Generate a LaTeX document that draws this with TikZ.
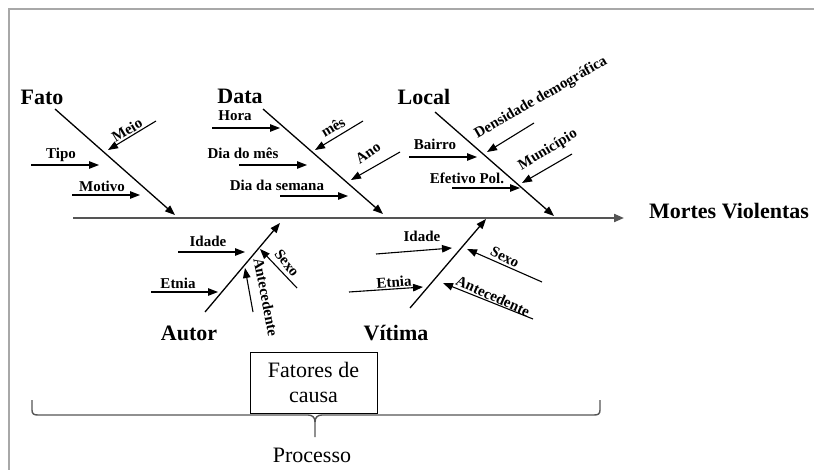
\documentclass[tikz,border=0pt]{standalone}
\usepackage{fontspec}
\setmainfont{Liberation Serif}
\usetikzlibrary{arrows.meta}
\definecolor{framegray}{HTML}{A8A8A8}
\definecolor{spinegray}{HTML}{555555}
\tikzset{
  tip/.style={-{Triangle[length=10pt,width=7.5pt]}},
  bone/.style={tip, line width=1.3pt, black},
  twig/.style={tip, line width=1.1pt, black},
  spine/.style={-{Triangle[length=10pt,width=8pt]}, line width=2pt, spinegray},
  head/.style={font=\fontsize{22}{24}\selectfont\bfseries, inner sep=0pt},
  cause/.style={font=\fontsize{15}{17}\selectfont\bfseries, inner sep=0pt},
  plain/.style={font=\fontsize{22}{24}\selectfont, inner sep=0pt},
  framerule/.style={line width=1.5pt, framegray},
  bracket/.style={line width=1.4pt, spinegray},
}
\begin{document}
\begin{tikzpicture}[x=1pt,y=-1pt]
\useasboundingbox (0,0) rectangle (814,470);
\fill[white] (0,0) rectangle (814,470);
\draw[framerule] (9,470) -- (9,9) -- (814,9);

% main spine and effect
\coordinate (sp0) at (73,218);
\coordinate (sp1) at (624,218);
\draw[spine] (sp0) -- (sp1);
\node[head] (effect) at (729,211) {Mortes Violentas};

% ---- Fato ----
\node[head] (fato) at (42,97) {Fato};
\coordinate (fatoA) at (55,109); \coordinate (fatoB) at (175,215);
\draw[bone] (fatoA) -- (fatoB);
\coordinate (meioA) at (156,121); \coordinate (meioB) at (108,150);
\draw[twig] (meioA) -- (meioB);
\node[cause, rotate=31] (meio) at (127,130) {Meio};
\coordinate (tipoA) at (31,165); \coordinate (tipoB) at (99,165);
\draw[twig] (tipoA) -- (tipoB);
\node[cause] (tipo) at (61,155) {Tipo};
\coordinate (motA) at (72,195); \coordinate (motB) at (140,195);
\draw[twig] (motA) -- (motB);
\node[cause] (motivo) at (102,186) {Motivo};

% ---- Data ----
\node[head] (data) at (240,96) {Data};
\coordinate (dataA) at (263,109); \coordinate (dataB) at (383,214);
\draw[bone] (dataA) -- (dataB);
\coordinate (horaA) at (212,128); \coordinate (horaB) at (280,128);
\draw[twig] (horaA) -- (horaB);
\node[cause] (hora) at (235,116) {Hora};
\coordinate (dmA) at (239,165); \coordinate (dmB) at (307,165);
\draw[twig] (dmA) -- (dmB);
\node[cause] (diames) at (243,153) {Dia do mês};
\coordinate (dsA) at (280,196); \coordinate (dsB) at (348,196);
\draw[twig] (dsA) -- (dsB);
\node[cause] (diasem) at (277,185) {Dia da semana};
\coordinate (mesA) at (363,121); \coordinate (mesB) at (315,150);
\draw[twig] (mesA) -- (mesB);
\node[cause, rotate=31] (mes) at (333,127) {mês};
\coordinate (anoA) at (400,152); \coordinate (anoB) at (351,180);
\draw[twig] (anoA) -- (anoB);
\node[cause, rotate=35] (ano) at (368,153) {Ano};

% ---- Local ----
\node[head] (local) at (424,97) {Local};
\coordinate (locA) at (435,112); \coordinate (locB) at (554,216);
\draw[bone] (locA) -- (locB);
\coordinate (baiA) at (409,157); \coordinate (baiB) at (477,157);
\draw[twig] (baiA) -- (baiB);
\node[cause] (bairro) at (435,144) {Bairro};
\coordinate (efA) at (452,188); \coordinate (efB) at (520,188);
\draw[twig] (efA) -- (efB);
\node[cause] (efetivo) at (467,178) {Efetivo Pol.};
\coordinate (denA) at (534,123); \coordinate (denB) at (487,152);
\draw[twig] (denA) -- (denB);
\node[cause, rotate=30] (dens) at (541,98) {Densidade demográfica};
\coordinate (munA) at (572,154); \coordinate (munB) at (522,183);
\draw[twig] (munA) -- (munB);
\node[cause, rotate=31] (mun) at (548,150) {Município};

% ---- Autor ----
\node[head] (autor) at (189,333) {Autor};
\coordinate (autA) at (205,312); \coordinate (autB) at (280,223);
\draw[bone] (autA) -- (autB);
\coordinate (aidA) at (178,252); \coordinate (aidB) at (245,252);
\draw[twig] (aidA) -- (aidB);
\node[cause] (aidade) at (208,241) {Idade};
\coordinate (aetA) at (151,292); \coordinate (aetB) at (218,292);
\draw[twig] (aetA) -- (aetB);
\node[cause] (aetnia) at (178,283) {Etnia};
\coordinate (asxA) at (297,288); \coordinate (asxB) at (260,249);
\draw[twig] (asxA) -- (asxB);
\node[cause, rotate=-52] (asexo) at (287,263) {Sexo};
\coordinate (aanA) at (253,312); \coordinate (aanB) at (245,268);
\draw[twig] (aanA) -- (aanB);
\node[cause, rotate=-79] (aante) at (266,297) {Antecedente};

% ---- Vítima ----
\node[head] (vitima) at (396,333) {Vítima};
\coordinate (vitA) at (410,308); \coordinate (vitB) at (486,219);
\draw[bone] (vitA) -- (vitB);
\coordinate (vidA) at (376,254); \coordinate (vidB) at (452,248);
\draw[twig] (vidA) -- (vidB);
\node[cause] (vidade) at (422,236) {Idade};
\coordinate (vetA) at (349,292); \coordinate (vetB) at (423,287);
\draw[twig] (vetA) -- (vetB);
\node[cause, rotate=4] (vetnia) at (394,282) {Etnia};
\coordinate (vsxA) at (542,282); \coordinate (vsxB) at (467,249);
\draw[twig] (vsxA) -- (vsxB);
\node[cause, rotate=-28] (vsexo) at (505,257) {Sexo};
\coordinate (vanA) at (533,319); \coordinate (vanB) at (443,283);
\draw[twig] (vanA) -- (vanB);
\node[cause, rotate=-24] (vante) at (493,296) {Antecedente};

% ---- bracket with the process label ----
\draw[bracket] (32,400) -- (32,410) .. controls (32,414) and (34,415) .. (38,415)
  -- (308,415) .. controls (312,415) and (315,417) .. (315,422);
\draw[bracket] (600,400) -- (600,410) .. controls (600,414) and (598,415) .. (594,415)
  -- (322,415) .. controls (318,415) and (315,417) .. (315,422) -- (315,437);
\node[plain, draw, line width=1pt, minimum width=127pt, minimum height=61pt,
      align=center, fill=white] (fc) at (313.5,382.5) {Fatores de\\[1pt]causa};
\node[plain] (proc) at (312,455) {Processo};
\end{tikzpicture}
\end{document}
